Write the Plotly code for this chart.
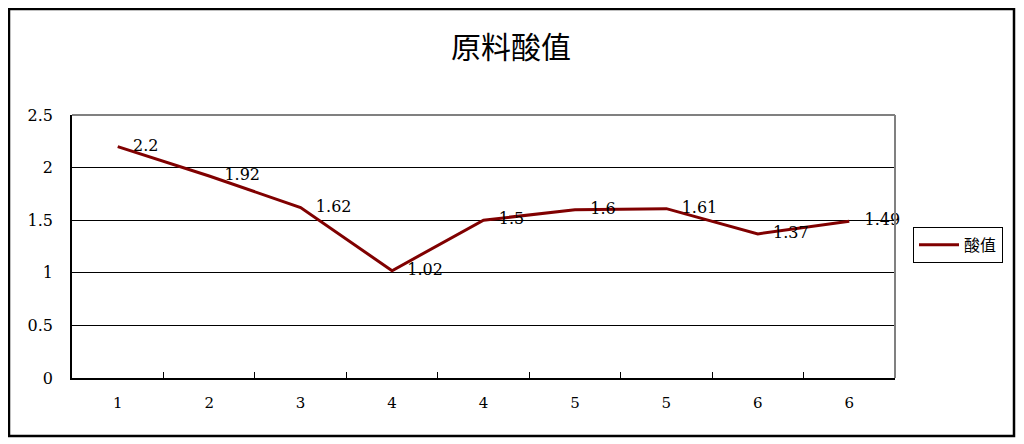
import plotly.graph_objects as go

# данные
categories = ["1", "2", "3", "4", "4", "5", "5", "6", "6"]
acid_values = [2.2, 1.92, 1.62, 1.02, 1.5, 1.6, 1.61, 1.37, 1.49]
y_ticks = [0, 0.5, 1, 1.5, 2, 2.5]
y_tick_labels = ["0", "0.5", "1", "1.5", "2", "2.5"]

idx = list(range(len(categories)))
serif = "DejaVu Serif, Liberation Serif, serif"

# страница сдвигает рисунок на 8px (отступ body), поэтому холст 1016x436
W, H = 1016, 436
L, R, T, B = 64, 129, 107, 66
pw, ph = W - L - R, H - T - B

fig = go.Figure()
fig.add_trace(go.Scatter(
    x=idx, y=acid_values, mode="lines+text", name="酸值",
    line=dict(color="#800000", width=3),
    text=[f"   {v:g}" for v in acid_values],
    textposition="middle right",
    textfont=dict(family=serif, size=16, color="#000000"),
    cliponaxis=False,
))

fig.update_layout(
    width=W, height=H,
    margin=dict(l=L, r=R, t=T, b=B),
    paper_bgcolor="white", plot_bgcolor="white",
    title=dict(text="原料酸值", x=(511 - 8) / W, xanchor="center", xref="container",
               y=1 - 39 / H, yanchor="middle",
               font=dict(family="Noto Sans CJK SC", size=30, color="#000000")),
    showlegend=True,
    legend=dict(x=(905 - L) / pw, y=0.506, xanchor="left", yanchor="middle",
                bordercolor="#000000", borderwidth=1, bgcolor="white", itemwidth=40,
                font=dict(family="Noto Sans CJK SC", size=16, color="#000000")),
    xaxis=dict(range=[-0.5, len(categories) - 0.5], tickmode="array", tickvals=idx,
               ticktext=categories, ticks="", showgrid=False, zeroline=False,
               showline=True, linecolor="#000000", linewidth=1.5,
               ticklabelstandoff=10,
               tickfont=dict(family=serif, size=15, color="#000000"),
               minor=dict(tickvals=[i + 0.5 for i in idx[:-1]], ticks="inside",
                          ticklen=6, tickcolor="#000000", showgrid=False)),
    yaxis=dict(range=[0, 2.5], tickmode="array", tickvals=y_ticks, ticktext=y_tick_labels,
               showgrid=True, gridcolor="#000000", gridwidth=1, zeroline=False,
               showline=True, linecolor="#000000", linewidth=1.5, ticks="",
               ticklabelstandoff=14,
               tickfont=dict(family=serif, size=16, color="#000000")),
)

# верх и правая граница области графика
fig.add_shape(type="line", xref="paper", yref="paper", x0=0, x1=1, y0=1, y1=1,
              line=dict(color="#808080", width=2))
fig.add_shape(type="line", xref="paper", yref="paper", x0=1, x1=1, y0=0, y1=1,
              line=dict(color="#808080", width=2))
# внешняя рамка
fig.add_shape(type="rect", xref="paper", yref="paper",
              x0=(1 - L) / pw, x1=(1006 - L) / pw,
              y0=-(B - 8) / ph, y1=(ph + T - 1) / ph,
              line=dict(color="#000000", width=2.5))

fig.write_html("out.html")
